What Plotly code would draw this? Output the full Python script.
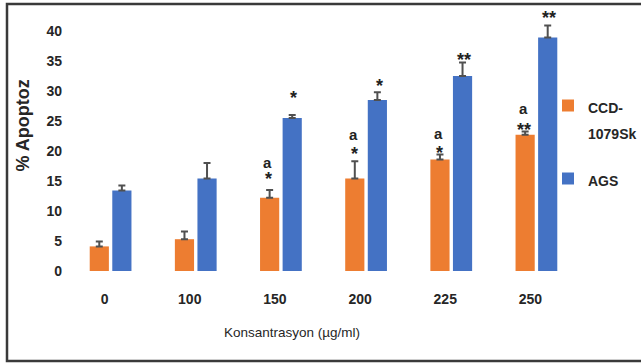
import plotly.graph_objects as go

categories = ["0", "100", "150", "200", "225", "250"]
ccd_values = [4.1, 5.3, 12.2, 15.4, 18.6, 22.7]
ccd_err = [0.8, 1.3, 1.3, 2.9, 0.8, 0.55]
ags_values = [13.4, 15.4, 25.5, 28.5, 32.5, 38.9]
ags_err = [0.85, 2.6, 0.5, 1.3, 2.25, 2.0]
ccd_stars = ["", "", "*", "*", "*", "**"]
ccd_letters = ["", "", "a", "a", "a", "a"]
ags_stars = ["", "", "*", "*", "**", "**"]
y_ticks = [0, 5, 10, 15, 20, 25, 30, 35, 40]

ORANGE = "#ED7D31"
BLUE = "#4472C4"
ERR = "#505050"
SANS = "Liberation Sans, Arial, sans-serif"

fig = go.Figure()
fig.add_trace(go.Bar(
    x=categories, y=ccd_values, name="<span style='font-size:14px'>CCD-<br>1079Sk</span>",
    marker=dict(color=ORANGE, line=dict(width=0)),
    error_y=dict(type="data", array=ccd_err, arrayminus=[0]*6, symmetric=False,
                 color=ERR, thickness=2, width=3.5),
    legendgroup="a",
))
fig.add_trace(go.Bar(
    x=categories, y=ags_values, name="<span style='font-size:14px'>AGS</span>",
    marker=dict(color=BLUE, line=dict(width=0)),
    error_y=dict(type="data", array=ags_err, arrayminus=[0]*6, symmetric=False,
                 color=ERR, thickness=2, width=3.5),
    legendgroup="b",
))

ann = []
ccd_star_shift = [0, 0, 11, 7, 2, 2]
ccd_letter_shift = [0, 0, 28, 27, 21, 23]
ags_star_shift = [0, 0, 17, 6, 3, 8]
for i, c in enumerate(categories):
    top_c = ccd_values[i] + ccd_err[i]
    top_a = ags_values[i] + ags_err[i]
    if ccd_stars[i]:
        ann.append(dict(x=i, y=top_c, xref="x", yref="y", text=ccd_stars[i], showarrow=False,
                        xshift=-12, yshift=ccd_star_shift[i], yanchor="middle",
                        font=dict(family=SANS, size=18, color="#222222", weight="bold")))
    if ccd_letters[i]:
        ann.append(dict(x=i, y=top_c, xref="x", yref="y", text=ccd_letters[i], showarrow=False,
                        xshift=-13, yshift=ccd_letter_shift[i], yanchor="middle",
                        font=dict(family=SANS, size=15, color="#222222", weight="bold")))
    if ags_stars[i]:
        ann.append(dict(x=i, y=top_a, xref="x", yref="y", text=ags_stars[i], showarrow=False,
                        xshift=13, yshift=ags_star_shift[i], yanchor="middle",
                        font=dict(family=SANS, size=18, color="#222222", weight="bold")))

PLOT_L, PLOT_W, BASE_Y = 68, 511, 271
ann.append(dict(x=(22.5 - PLOT_L) / PLOT_W, y=(126 - 19) / 252 * -1 + 1, xref="paper", yref="paper",
                text="% Apoptoz", textangle=-90, xanchor="center", yanchor="middle",
                showarrow=False, font=dict(family=SANS, size=18, color="#262626", weight="bold")))
ann.append(dict(x=(291.5 - PLOT_L) / PLOT_W, y=(BASE_Y - 332) / 252, xref="paper", yref="paper",
                text="Konsantrasyon (µg/ml)", showarrow=False, xanchor="center", yanchor="middle",
                font=dict(family=SANS, size=13.5, color="#262626")))

fig.update_layout(
    width=641, height=363,
    margin=dict(l=68, r=62, t=19, b=92, autoexpand=False),
    paper_bgcolor="white", plot_bgcolor="white",
    barmode="group", bargap=0.47, bargroupgap=0.15,
    showlegend=True,
    legend=dict(xref="container", yref="container", x=548 / 641, y=1 - 86 / 363,
                xanchor="left", yanchor="top", valign="top",
                font=dict(family=SANS, size=20, color="#262626", weight="bold"),
                tracegroupgap=18, bgcolor="rgba(0,0,0,0)", itemwidth=30),
    annotations=ann,
    shapes=[dict(type="rect", xref="paper", yref="paper",
                 x0=(7 - 68) / 511, x1=(650 - 68) / 511,
                 y0=(271 - 361) / 252, y1=(271 - 4) / 252,
                 line=dict(color="#3a3a3a", width=2.5))],
    xaxis=dict(type="category", showgrid=False, showline=False, zeroline=False, ticks="",
               tickfont=dict(family=SANS, size=14, color="#262626", weight="bold"),
               ticklabelstandoff=18, ticklabelshift=-6),
    yaxis=dict(range=[0, 42], showgrid=False, showline=False, zeroline=False, ticks="",
               tickvals=y_ticks, ticktext=[str(v) for v in y_ticks],
               tickfont=dict(family=SANS, size=14, color="#262626", weight="bold"),
               ticklabelstandoff=5),
)

fig.write_html("out.html", config={"displayModeBar": False},
               post_script="document.body.style.margin='0';")
